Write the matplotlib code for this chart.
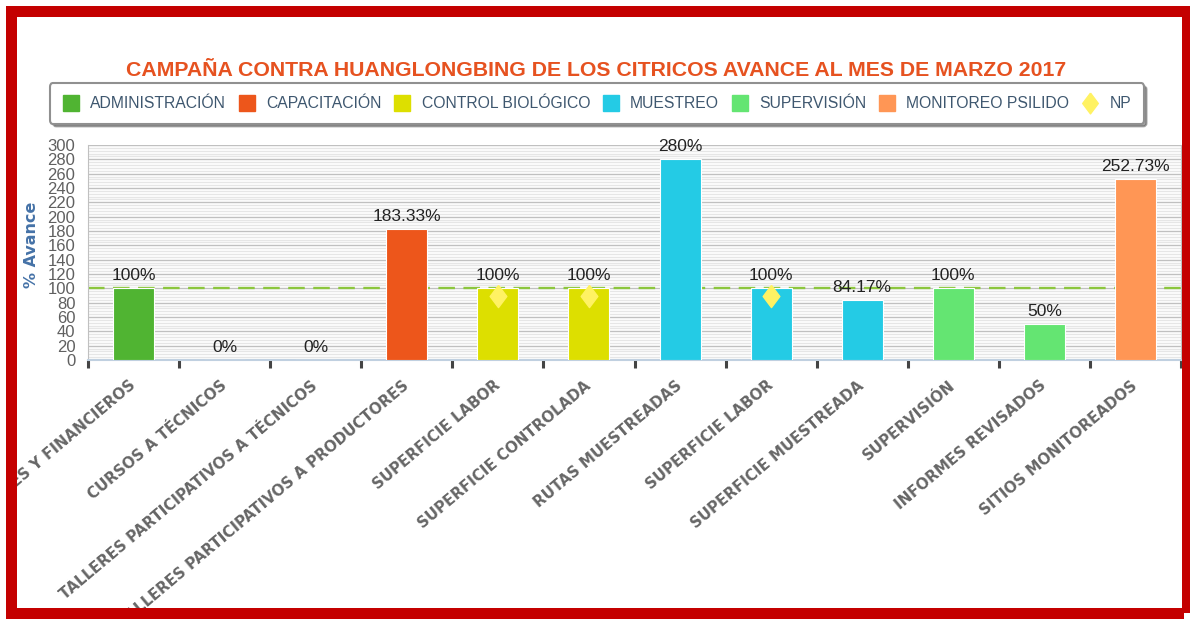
import numpy as np
import matplotlib.pyplot as plt
from matplotlib.lines import Line2D
from matplotlib.patches import Rectangle
from matplotlib.ticker import MultipleLocator

categorias = ['RECURSOS HUMANOS, MATERIALES Y FINANCIEROS', 'CURSOS A TÉCNICOS',
              'TALLERES PARTICIPATIVOS A TÉCNICOS', 'TALLERES PARTICIPATIVOS A PRODUCTORES',
              'SUPERFICIE LABOR', 'SUPERFICIE CONTROLADA', 'RUTAS MUESTREADAS',
              'SUPERFICIE LABOR', 'SUPERFICIE MUESTREADA', 'SUPERVISIÓN',
              'INFORMES REVISADOS', 'SITIOS MONITOREADOS']
avance = [100, 0, 0, 183.33, 100, 100, 280, 100, 84.17, 100, 50, 252.73]
etiquetas = ['100%', '0%', '0%', '183.33%', '100%', '100%', '280%', '100%',
             '84.17%', '100%', '50%', '252.73%']
serie = [0, 1, 1, 1, 2, 2, 3, 3, 3, 4, 4, 5]
series = ['ADMINISTRACIÓN', 'CAPACITACIÓN', 'CONTROL BIOLÓGICO', 'MUESTREO',
          'SUPERVISIÓN', 'MONITOREO PSILIDO']
colores = ['#50B432', '#ED561B', '#DDDF00', '#24CBE5', '#64E572', '#FF9655']
np_idx = [4, 5, 7]
np_val = [90, 90, 90]
meta = 100

narrow = ['Liberation Sans', 'DejaVu Sans']
rombo = [(0, 1), (0.75, 0), (0, -1), (-0.75, 0), (0, 1)]

fig = plt.figure(figsize=(11.9, 6.19), dpi=100)
ax = fig.add_axes([88/1190, 1-360/619, (1181-88)/1190, 215/619])

x = np.arange(len(categorias))
ax.axhline(meta, color='#8CC63E', lw=1.7, ls=(0, (7, 3.6)), zorder=2)
ax.bar(x, avance, width=0.45, color=[colores[s] for s in serie],
       edgecolor='white', linewidth=0.8, zorder=3)
for xi, v, t in zip(x, avance, etiquetas):
    ax.annotate(t, (xi, v), xytext=(0, 8), textcoords='offset pixels',
                ha='center', va='baseline', fontsize=12.5, color='#222222',
                family=narrow, zorder=5)
ax.plot(np_idx, np_val, ls='none', marker=rombo, markersize=16,
        color='#FFF263', markeredgecolor='#FFF263', zorder=4)

ax.set_xlim(-0.5, 11.5)
ax.set_ylim(0, 300)
ax.yaxis.set_major_locator(MultipleLocator(20))
ax.yaxis.set_minor_locator(MultipleLocator(4))
ax.grid(axis='y', which='major', color='#C0C0C0', lw=1, zorder=0)
ax.grid(axis='y', which='minor', color='#E6E6E6', lw=1, zorder=0)
ax.set_axisbelow(True)
ax.tick_params(axis='y', which='both', length=0, pad=9, labelsize=12,
               labelcolor='#606060')
for lab in ax.get_yticklabels():
    lab.set_family(narrow)

ax.set_xticks(x)
ax.set_xticklabels(categorias, rotation=40, ha='right', va='center',
                   rotation_mode='anchor', fontsize=10.8, fontweight='bold',
                   color='#666666')
ax.set_xticks(np.arange(-0.5, 12, 1), minor=True)
ax.tick_params(axis='x', which='major', length=0, pad=17)
ax.tick_params(axis='x', which='minor', length=6, width=2.2, color='#444444')

ax.spines['top'].set_visible(False)
ax.spines['bottom'].set_color('#C0D0E0')
ax.spines['bottom'].set_linewidth(1.5)
ax.spines['left'].set_color('#C0C0C0')
ax.spines['right'].set_color('#C0C0C0')

fig.text(32/1190, 1-245/619, '% Avance', rotation=90, ha='center', va='center',
         fontsize=11.5, fontweight='bold', color='#4572A7')

fig.text(0.5013, 1-70/619, 'CAMPAÑA CONTRA HUANGLONGBING DE LOS CITRICOS AVANCE AL MES DE MARZO 2017',
         ha='center', va='center', fontsize=15.3, fontweight='bold',
         color='#E65220', family=narrow)

handles = [Line2D([], [], ls='none', marker='s', markersize=12, color=c) for c in colores]
handles.append(Line2D([], [], ls='none', marker=rombo, markersize=15, color='#FFF263'))
leg = fig.legend(handles, series + ['NP'], loc='center', ncol=7,
                 bbox_to_anchor=(597/1190, 1-103.5/619),
                 prop={'family': narrow, 'size': 11.3}, labelcolor='#3E576F',
                 frameon=True, fancybox=True, shadow=True, handlelength=1.0,
                 handletextpad=0.75, columnspacing=0.8, borderpad=0.8,
                 borderaxespad=0)
leg.get_frame().set_edgecolor('#909090')
leg.get_frame().set_linewidth(1.5)

# marco rojo
rojo = '#C40000'
W, H = 1190, 619
for (x0, y0, w, h, c) in [(0, 0, 1190, 6, 'white'), (0, 0, 6, 619, 'white'),
                          (6, 6, 1178, 11, rojo), (6, 6, 11, 607, rojo),
                          (1182, 6, 8, 607, rojo), (6, 608, 1178, 11, rojo)]:
    fig.add_artist(Rectangle((x0/W, 1-(y0+h)/H), w/W, h/H, transform=fig.transFigure,
                             facecolor=c, edgecolor='none', zorder=10))

fig.savefig('out.png', dpi=100)
